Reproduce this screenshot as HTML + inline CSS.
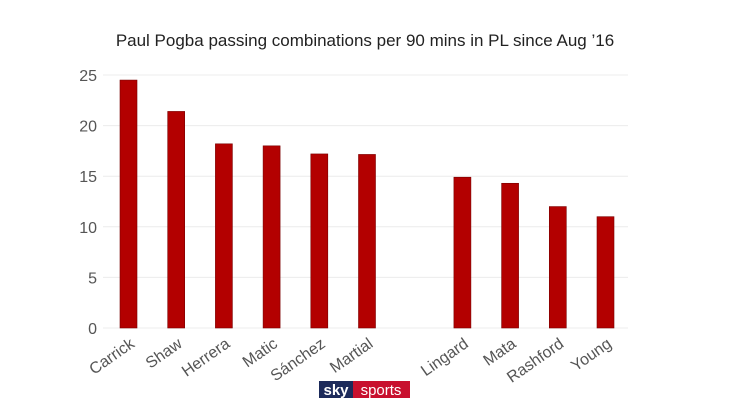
<!DOCTYPE html>
<html><head><meta charset="utf-8"><style>
body{margin:0;background:#fff;}
svg{display:block;font-family:"Liberation Sans",sans-serif;}
</style></head><body>
<svg width="730" height="411" viewBox="0 0 730 411">
<text x="365" y="46" text-anchor="middle" font-size="17" fill="#222">Paul Pogba passing combinations per 90 mins in PL since Aug ’16</text>
<g id="grid"></g><g id="bars"></g><g id="xl"></g>
<g>
<rect x="319" y="381" width="34" height="17" fill="#1c2a5a"/>
<rect x="353" y="381" width="57" height="17" fill="#c8102e"/>
<text x="336" y="395" text-anchor="middle" font-size="15" font-weight="bold" fill="#fff">sky</text>
<text x="381" y="395" text-anchor="middle" font-size="15" fill="#fff">sports</text>
</g>
</svg>
<script>
const categories=["Carrick","Shaw","Herrera","Matic","Sánchez","Martial","","Lingard","Mata","Rashford","Young"];
const values=[24.5,21.4,18.2,18.0,17.2,17.15,null,14.9,14.3,12.0,11.0];
const yTicks=[0,5,10,15,20,25];
const ns="http://www.w3.org/2000/svg";
const y=v=>328-v*10.12;
const x=i=>128.5+i*47.7;
function mk(t,a,p){const e=document.createElementNS(ns,t);for(const k in a)e.setAttribute(k,a[k]);p.appendChild(e);return e;}
const g=document.getElementById('grid');
yTicks.forEach(t=>{
const l=mk('line',{x1:103,x2:628,y1:y(t),y2:y(t),stroke:'#ececec','stroke-width':1},g);


const tx=mk('text',{x:97,y:y(t)+6,'text-anchor':'end','font-size':16,fill:'#555'},g);
tx.textContent=t;


});
const b=document.getElementById('bars'),xl=document.getElementById('xl');
categories.forEach((c,i)=>{
if(values[i]==null)return;
const r=mk('rect',{x:x(i)-8.5,y:y(values[i]),width:17,height:328-y(values[i]),fill:'#b30000',stroke:'#7a0000','stroke-width':0.6},b);


const t=mk('text',{x:x(i)+7,y:346,'text-anchor':'end','font-size':16,fill:'#555',transform:`rotate(-35 ${x(i)+7} 346)`},xl);
t.textContent=c;


});
</script>
</body></html>
